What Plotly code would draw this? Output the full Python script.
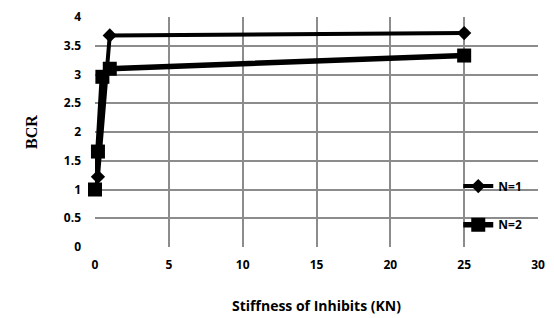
import plotly.graph_objects as go

x_n1 = [0.2, 1, 25]
y_n1 = [1.22, 3.68, 3.72]
x_n2 = [0, 0.2, 0.5, 1, 25]
y_n2 = [1.0, 1.66, 2.96, 3.1, 3.33]

x_ticks = [0, 5, 10, 15, 20, 25, 30]
y_ticks = [0, 0.5, 1, 1.5, 2, 2.5, 3, 3.5, 4]
y_labels = ["0", "0.5", "1", "1.5", "2", "2.5", "3", "3.5", "4"]

tickfont = dict(family="Open Sans", size=12, color="black", weight="bold")

fig = go.Figure()
fig.add_trace(go.Scatter(
    x=x_n1, y=y_n1, mode="lines+markers", name="<b>N=1</b>",
    line=dict(color="black", width=4),
    marker=dict(symbol="diamond", size=11, color="black"),
    legend="legend", cliponaxis=False,
))
fig.add_trace(go.Scatter(
    x=x_n2, y=y_n2, mode="lines+markers", name="<b>N=2</b>",
    line=dict(color="black", width=5.5),
    marker=dict(symbol="square", size=14, color="black"),
    legend="legend2", cliponaxis=False,
))

legfont = dict(family="Open Sans", size=12, color="black")
fig.update_layout(
    width=546, height=310,
    margin=dict(l=87, r=16, t=9, b=71, autoexpand=False),
    plot_bgcolor="white", paper_bgcolor="white",
    showlegend=True,
    legend=dict(x=0.82, y=0.265, xanchor="left", yanchor="middle",
                bgcolor="rgba(0,0,0,0)", font=legfont,
                itemwidth=30, borderwidth=0),
    legend2=dict(x=0.82, y=0.097, xanchor="left", yanchor="middle",
                 bgcolor="rgba(0,0,0,0)", font=legfont,
                 itemwidth=30, borderwidth=0),
    xaxis=dict(
        range=[0, 30], tickvals=x_ticks, ticktext=[str(v) for v in x_ticks],
        showgrid=True, gridcolor="#8c8c8c", gridwidth=2,
        zeroline=False, showline=False, automargin=False,
        tickfont=tickfont, ticks="", ticklabelstandoff=9,
        title=dict(text="<b>Stiffness of Inhibits (KN)</b>",
                   font=dict(family="Open Sans", size=14, color="black"),
                   standoff=29),
    ),
    yaxis=dict(
        range=[0, 4], tickvals=y_ticks, ticktext=y_labels,
        showgrid=True, gridcolor="#8c8c8c", gridwidth=2,
        zeroline=False, showline=False, automargin=False,
        tickfont=tickfont, ticks="", ticklabelstandoff=13,
        title=dict(text="<b>BCR</b>",
                   font=dict(family="Liberation Serif", size=16, color="black"),
                   standoff=22),
    ),
)

fig.write_html("out.html")
